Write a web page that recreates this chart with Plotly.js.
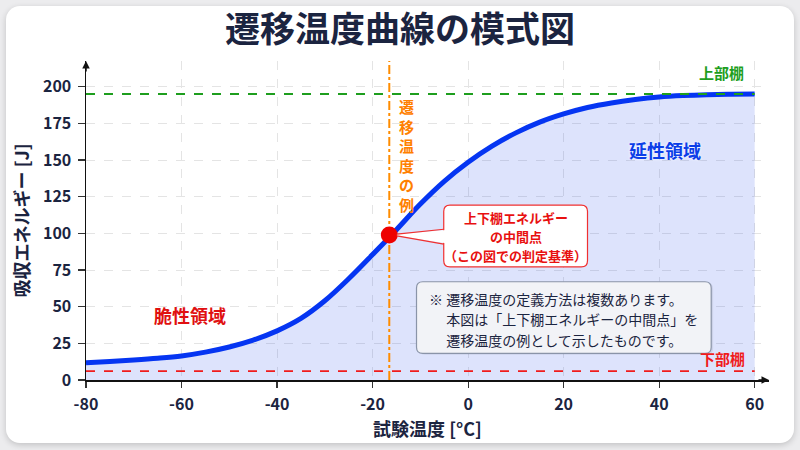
<!DOCTYPE html>
<html>
<head>
<meta charset="utf-8">
<script src="https://cdn.plot.ly/plotly-3.0.1.min.js"></script>
<style>
  body { margin: 0; background: #ececee; }
  #card {
    position: absolute; left: 6px; top: 6px; width: 788px; height: 437px;
    background: #fff; border-radius: 14px;
    box-shadow: 0 2px 6px rgba(0,0,0,0.18);
  }
  #chart { position: absolute; left: 0; top: 0; width: 800px; height: 450px; }
</style>
</head>
<body>
<div id="card"></div>
<div id="chart"></div>
<script>
// curve (temperature in °C, absorbed energy in J)
const temps = [-80, -75, -70, -65, -60, -55, -50, -45, -40, -35, -30, -25, -20, -15, -10,
               -5, 0, 5, 10, 15, 20, 25, 30, 35, 40, 45, 50, 55, 60];
const energy = [11.8, 12.6, 13.6, 14.8, 16.4, 19.0, 22.5, 27.2, 33.5, 42.0, 54.0, 69.0, 85.5, 102.5, 120.0,
                135.5, 148.5, 159.5, 168.5, 175.8, 181.4, 185.8, 188.9, 191.2, 192.9, 193.9, 194.5, 194.8, 195.0];

const shelfX = [-80, 60];
const upperShelf = 195;
const lowerShelf = 6;
const transitionT = -16.5;
const midEnergy = 98.9;

const xTicks = [-80, -60, -40, -20, 0, 20, 40, 60];
const yTicks = [0, 25, 50, 75, 100, 125, 150, 175, 200];

const calloutLines = ['上下棚エネルギー', 'の中間点', '（この図での判定基準）'];
const noteLines = ['※ 遷移温度の定義方法は複数あります。',
                   '\u3000\u00a0本図は「上下棚エネルギーの中間点」を',
                   '\u3000\u00a0遷移温度の例として示したものです。'];

const FONT = '"Noto Sans CJK JP", "Noto Sans", sans-serif';
const NAVY = '#1b2440';
const yMax = 217.5;

// rounded box as a path in data units
function roundBox(x0, x1, y0, y1, rx, ry) {
  return 'M' + (x0 + rx) + ',' + y1 + ' L' + (x1 - rx) + ',' + y1 +
    ' Q' + x1 + ',' + y1 + ' ' + x1 + ',' + (y1 - ry) +
    ' L' + x1 + ',' + (y0 + ry) + ' Q' + x1 + ',' + y0 + ' ' + (x1 - rx) + ',' + y0 +
    ' L' + (x0 + rx) + ',' + y0 + ' Q' + x0 + ',' + y0 + ' ' + x0 + ',' + (y0 + ry) +
    ' L' + x0 + ',' + (y1 - ry) + ' Q' + x0 + ',' + y1 + ' ' + (x0 + rx) + ',' + y1 + ' Z';
}

const curve = {
  x: temps, y: energy, type: 'scatter', mode: 'lines',
  line: { color: '#0535f2', width: 5, shape: 'spline' },
  fill: 'tozeroy', fillcolor: 'rgba(30,70,235,0.15)',
  hoverinfo: 'skip'
};
const upper = {
  x: shelfX, y: [upperShelf, upperShelf], mode: 'lines',
  line: { color: '#1e9e1e', width: 1.8, dash: 'dash' }, hoverinfo: 'skip'
};
const lower = {
  x: shelfX, y: [lowerShelf, lowerShelf], mode: 'lines',
  line: { color: '#f01c1c', width: 1.8, dash: 'dash' }, hoverinfo: 'skip'
};
const vline = {
  x: [transitionT, transitionT], y: [0, yMax], mode: 'lines',
  line: { color: '#ff8c00', width: 2, dash: 'dashdot' }, hoverinfo: 'skip'
};
const dot = {
  x: [transitionT], y: [midEnergy], mode: 'markers',
  marker: { color: '#ee0000', size: 17 }, hoverinfo: 'skip'
};

const shapes = [
  // note box with soft shadow
  { type: 'path', layer: 'above', path: roundBox(-10.4, 51.3, 17.3, 66.3, 1.3, 4.2),
    fillcolor: 'rgba(0,0,0,0.07)', line: { width: 0 } },
  { type: 'path', layer: 'above', path: roundBox(-10.8, 50.9, 18.2, 67.0, 1.3, 4.2),
    fillcolor: '#f2f3f7', line: { color: '#8a94a8', width: 1.2 } },
  // callout box and its wedge towards the dot
  { type: 'path', layer: 'above', path: roundBox(-5.1, 25.0, 77.1, 119.3, 1.3, 4.2),
    fillcolor: '#ffffff', line: { color: '#f03030', width: 1.2 } },
  { type: 'path', layer: 'above', path: 'M-14.9,99.4 L-4.6,102.2 L-4.6,93.3 L-14.9,98.3 Z',
    fillcolor: '#ffffff', line: { width: 0 } },
  { type: 'line', layer: 'above', x0: -14.9, y0: 99.4, x1: -5.1, y1: 102.8,
    line: { color: '#f03030', width: 1.2 } },
  { type: 'line', layer: 'above', x0: -14.9, y0: 98.3, x1: -5.1, y1: 92.7,
    line: { color: '#f03030', width: 1.2 } }
];

const annotations = [
  // axis arrowheads
  { x: 63, y: 0, xref: 'x', yref: 'y', ax: -12, ay: 0, text: '', showarrow: true,
    arrowhead: 2, arrowsize: 1, arrowwidth: 1.5, arrowcolor: '#111' },
  { x: -80, y: yMax, xref: 'x', yref: 'y', ax: 0, ay: 12, text: '', showarrow: true,
    arrowhead: 2, arrowsize: 1, arrowwidth: 1.5, arrowcolor: '#111' },
  { x: 58.1, y: 210, xanchor: 'right', yanchor: 'middle', showarrow: false, text: '上部棚',
    font: { family: FONT, size: 15, color: '#1e9e1e', weight: 700 } },
  { x: 58.3, y: 15, xanchor: 'right', yanchor: 'middle', showarrow: false, text: '下部棚',
    font: { family: FONT, size: 15, color: '#f01c1c', weight: 700 } },
  { x: 41.3, y: 156.8, showarrow: false, text: '延性領域',
    font: { family: FONT, size: 18, color: '#0b3ee8', weight: 700, shadow: '0 0 3px #fff' } },
  { x: -58.2, y: 44.3, showarrow: false, text: '脆性領域',
    font: { family: FONT, size: 18, color: '#e01010', weight: 700 } },
  { x: -12.9, y: 153.1, showarrow: false, text: '遷<br>移<br>温<br>度<br>の<br>例',
    font: { family: FONT, size: 15, color: '#ff8000', weight: 700 } }
];

// callout lines, one annotation each (about 19 px apart)
const calloutY = [111.0, 98.1, 85.2];
calloutLines.forEach((t, i) => {
  annotations.push({ x: 10.0, y: calloutY[i], showarrow: false, text: t,
    font: { family: FONT, size: 13, color: '#e81010', weight: 700 } });
});

// note lines, left aligned (about 20 px apart)
const noteY = [55.2, 41.4, 27.6];
noteLines.forEach((t, i) => {
  annotations.push({ x: -8.7, y: noteY[i], xanchor: 'left', showarrow: false, text: t,
    font: { family: FONT, size: 14, color: NAVY } });
});

const layout = {
  width: 800, height: 450,
  margin: { l: 86, r: 31, t: 61, b: 70 },
  paper_bgcolor: 'rgba(0,0,0,0)', plot_bgcolor: 'rgba(0,0,0,0)',
  showlegend: false,
  title: {
    text: '遷移温度曲線の模式図', x: 0.5, xanchor: 'center',
    y: 0.933, yref: 'container', yanchor: 'middle',
    font: { family: FONT, size: 35, color: NAVY, weight: 700 }
  },
  xaxis: {
    range: [-80, 63], tickvals: xTicks, ticktext: xTicks.map(String),
    showgrid: true, gridcolor: '#e4e4e4', griddash: 'dash', gridwidth: 1,
    zeroline: false, showline: true, linecolor: '#111', linewidth: 1.5,
    ticks: 'outside', ticklen: 6, tickwidth: 1.2, tickcolor: '#333', ticklabelstandoff: 3,
    tickfont: { family: FONT, size: 16, color: NAVY, weight: 700 },
    title: { text: '試験温度 [°C]', standoff: 8,
             font: { family: FONT, size: 18, color: NAVY, weight: 700 } }
  },
  yaxis: {
    range: [0, yMax], tickvals: yTicks, ticktext: yTicks.map(String),
    showgrid: true, gridcolor: '#e4e4e4', griddash: 'dash', gridwidth: 1,
    zeroline: false, showline: true, linecolor: '#111', linewidth: 1.5,
    ticks: 'outside', ticklen: 7, tickwidth: 1.2, tickcolor: '#333', ticklabelstandoff: 3,
    tickfont: { family: FONT, size: 16, color: NAVY, weight: 700 },
    title: { text: '吸収エネルギー [J]', standoff: 8,
             font: { family: FONT, size: 18, color: NAVY, weight: 700 } }
  },
  shapes: shapes,
  annotations: annotations
};

Plotly.newPlot('chart', [curve, upper, lower, vline, dot], layout, { displayModeBar: false, staticPlot: true });
</script>
</body>
</html>
